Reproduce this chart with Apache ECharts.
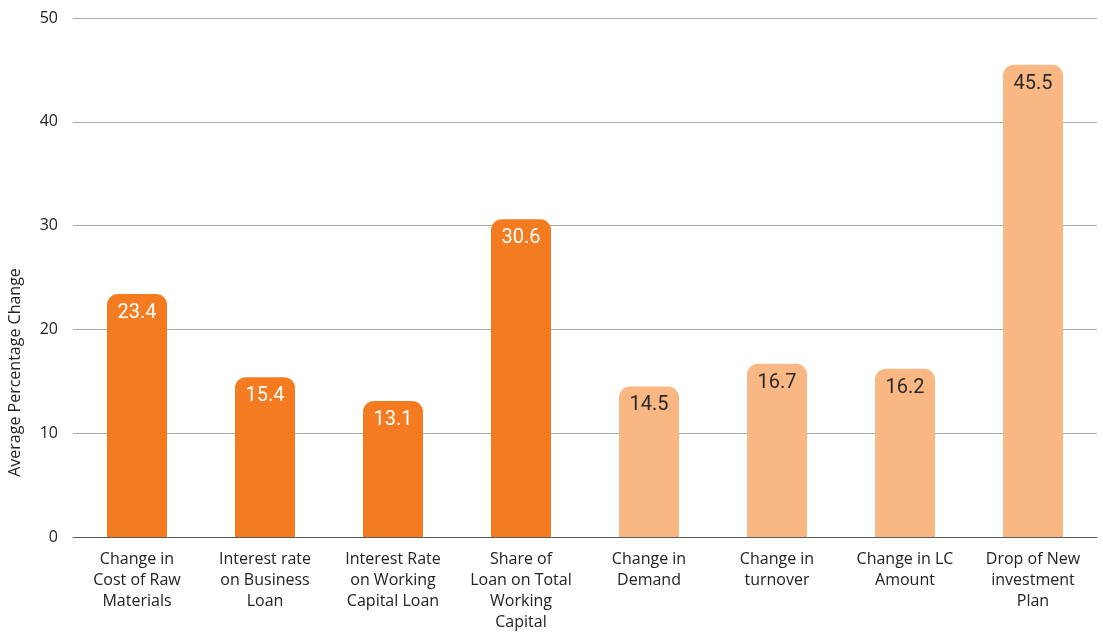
<!DOCTYPE html>
<html>
<head>
<meta charset="utf-8">
<script src="https://cdn.jsdelivr.net/npm/echarts@6/dist/echarts.min.js"></script>
<style>
  html, body { margin: 0; padding: 0; background: #fff; }
  #chart { width: 1103px; height: 632px; }
</style>
</head>
<body>
<div id="chart"></div>
<script>
// Indicator categories (x axis)
const categories = [
  'Change in\nCost of Raw\nMaterials',
  'Interest rate\non Business\nLoan',
  'Interest Rate\non Working\nCapital Loan',
  'Share of\nLoan on Total\nWorking\nCapital',
  'Change in\nDemand',
  'Change in\nturnover',
  'Change in LC\nAmount',
  'Drop of New\ninvestment\nPlan'
];

// Financing indicators (dark orange) and business indicators (light orange)
const financingValues = [23.4, 15.4, 13.1, 30.6, null, null, null, null];
const businessValues  = [null, null, null, null, 14.5, 16.7, 16.2, 45.5];

// Value axis ticks
const yTicks = [0, 10, 20, 30, 40, 50];

const chart = echarts.init(document.getElementById('chart'));

const labelFont = "Roboto, 'Noto Sans', sans-serif";
const axisFont = "'Open Sans', 'Noto Sans', sans-serif";

function barSeries(name, values, color, textColor) {
  return {
    name: name,
    type: 'bar',
    data: values,
    barWidth: 60,
    barGap: '-100%',
    itemStyle: { color: color, borderRadius: [11, 11, 0, 0] },
    label: {
      show: true,
      position: 'insideTop',
      distance: 9,
      color: textColor,
      fontFamily: labelFont,
      fontSize: 20,
      formatter: p => p.value.toFixed(1)
    }
  };
}

chart.setOption({
  animation: false,
  grid: { left: 73, right: 6, top: 18, bottom: 95, outerBoundsMode: 'none' },
  xAxis: {
    type: 'category',
    data: categories,
    axisLine: { lineStyle: { color: '#5a5a5a', width: 1 } },
    axisTick: { show: false },
    axisLabel: {
      color: '#222',
      fontFamily: axisFont,
      fontSize: 16,
      lineHeight: 21,
      margin: 12,
      interval: 0
    }
  },
  yAxis: {
    type: 'value',
    min: yTicks[0],
    max: yTicks[yTicks.length - 1],
    interval: yTicks[1] - yTicks[0],
    name: 'Average Percentage Change',
    nameLocation: 'middle',
    nameGap: 50,
    nameTextStyle: {
      color: '#222',
      fontFamily: axisFont,
      fontSize: 16,
      padding: [0, 190, 0, 0]
    },
    axisLine: { show: false },
    axisTick: { show: false },
    axisLabel: { color: '#222', fontFamily: axisFont, fontSize: 16, margin: 15 },
    splitLine: { lineStyle: { color: '#a8a8a8', width: 1 } }
  },
  series: [
    barSeries('Financing', financingValues, '#f47b20', '#ffffff'),
    barSeries('Business', businessValues, '#f9b784', '#2a2a2a')
  ]
});
</script>
</body>
</html>
